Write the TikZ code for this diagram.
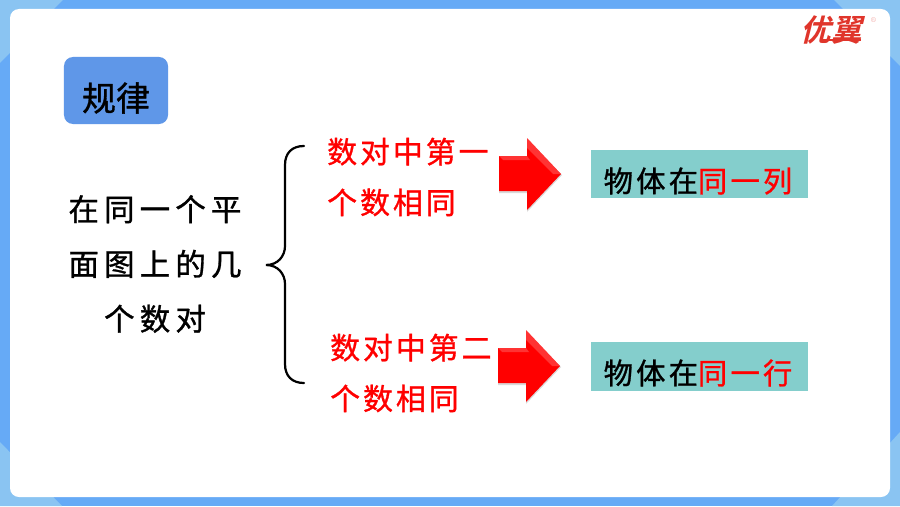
\documentclass[tikz,border=0pt]{standalone}
\usepackage{fontspec}
\newfontfamily\cjkTag[FakeBold=1]{Noto Sans CJK SC}
\newfontfamily\cjkMain[LetterSpace=17,FakeBold=1]{Noto Sans CJK SC}
\newfontfamily\cjkRed[LetterSpace=10,FakeBold=1]{Noto Sans CJK SC}
\newfontfamily\cjkBox[LetterSpace=11,FakeBold=1]{Noto Sans CJK SC}
\newfontfamily\cjkLogo[FakeSlant=0.25]{Noto Sans CJK SC Bold}
\definecolor{frameBlue}{HTML}{66AAF6}
\definecolor{cornerBlue}{HTML}{8AC4F2}
\definecolor{tagBlue}{HTML}{5F97E8}
\definecolor{boxTeal}{HTML}{84CECC}
\definecolor{arrowRed}{HTML}{FF0000}
\definecolor{logoRed}{HTML}{E0352B}

\begin{document}
\begin{tikzpicture}[x=0.03cm,y=-0.03cm,%%
  cornerStyle/.style={fill=cornerBlue,draw=none},%%
  tagStyle/.style={fill=tagBlue,rounded corners=0.27cm,inner sep=0pt,minimum width=3.12cm,minimum height=2.01cm},%%
  mainStyle/.style={align=center,inner sep=0pt,black,font=\cjkMain\fontsize{26}{46.75}\selectfont},%%
  redStyle/.style={align=left,inner sep=0pt,red,font=\cjkRed\fontsize{25.5}{43.35}\selectfont},%%
  boxStyle/.style={fill=boxTeal,inner sep=0pt,minimum width=6.51cm,minimum height=1.45cm},%%
  boxTextStyle/.style={inner sep=0pt,font=\cjkBox\fontsize{25}{25}\selectfont},%%
  braceStyle/.style={-,line width=1.9pt,line cap=round},%%
  arrowStyle/.style={fill=arrowRed,draw=none},%%
  shineStyle/.style={fill=white,opacity=0.2,draw=none},%%
  shadowStyle/.style={fill=black,opacity=0.15,draw=none}%%
]
%%
%%
\pgfmathsetmacro{\pageW}{900}
\pgfmathsetmacro{\pageH}{506}
\pgfmathsetmacro{\upperY}{174}
\pgfmathsetmacro{\lowerY}{366}
%%
\coordinate (origin) at (0,0);
\coordinate (farCorner) at (\pageW,\pageH);
%%
%% Draw the frame and its corners.
\fill[frameBlue] (origin) rectangle (farCorner);
\fill[cornerStyle] (0,0) -- (63,0) -- (0,63) -- cycle;
\fill[cornerStyle] (900,0) -- (834,0) -- (900,66) -- cycle;
\fill[cornerStyle] (900,506) -- (832,506) -- (900,432) -- cycle;
\fill[cornerStyle] (0,506) -- (62,506) -- (0,442) -- cycle;
\fill[white,rounded corners=0.27cm] (10,9) rectangle (890,497);
%%
%% The logo.
\node[inner sep=0pt,text=logoRed] (logoText) at (831,30) {\cjkLogo\fontsize{26}{26}\selectfont 优翼};
\node[inner sep=0pt,text=logoRed!45] (logoMark) at (873.5,20) {\fontsize{6}{6}\selectfont\textregistered};
\fill[logoRed] (822,39.5) rectangle (861,41.5);
%%
%% The tag and the text on the left.
\node[tagStyle] (tagBox) at (116,90.5) {};
\node[inner sep=0pt] (tagText) at (116,98) {\cjkTag\fontsize{29}{29}\selectfont 规律};
\node[mainStyle] (mainText) at (155,264) {在同一个平\\面图上的几\\个数对};
%%
%% Draw the brace.
\coordinate (braceTop) at (304,146);
\coordinate (braceTip) at (266,265);
\coordinate (braceEnd) at (304,383);
\draw[braceStyle] (braceTop) .. controls (292,146) and (285,153) .. (285,165)
  -- (285,246) .. controls (285,256) and (278,265) .. (braceTip)
  .. controls (278,265) and (285,274) .. (285,284)
  -- (285,364) .. controls (285,376) and (292,383) .. (braceEnd);
%%
%% The two red texts.
\node[redStyle,anchor=west] (firstText) at (327,177) {数对中第一\\个数相同};
\node[redStyle,anchor=west] (secondText) at (330,373) {数对中第二\\个数相同};
%%
%% The two block arrows.
\foreach \arrowY/\arrowX in {\upperY/0,\lowerY/-1} {
  \fill[shadowStyle] (499+\arrowX,\arrowY-15) -- (527+\arrowX,\arrowY-15) -- (527+\arrowX,\arrowY-33)
    -- (562+\arrowX,\arrowY+1) -- (527+\arrowX,\arrowY+38) -- (527+\arrowX,\arrowY+19) -- (499+\arrowX,\arrowY+19) -- cycle;
  \fill[arrowStyle] (499+\arrowX,\arrowY-18) -- (527+\arrowX,\arrowY-18) -- (527+\arrowX,\arrowY-36)
    -- (561+\arrowX,\arrowY) -- (527+\arrowX,\arrowY+36) -- (527+\arrowX,\arrowY+17) -- (499+\arrowX,\arrowY+17) -- cycle;
  \fill[shineStyle] (499+\arrowX,\arrowY-18) -- (527+\arrowX,\arrowY-18) -- (530+\arrowX,\arrowY-14) -- (503+\arrowX,\arrowY-14) -- cycle;
  \fill[shineStyle] (527+\arrowX,\arrowY-36) -- (561+\arrowX,\arrowY) -- (553+\arrowX,\arrowY) -- (527+\arrowX,\arrowY-26) -- cycle;
}
%%
%% The two result boxes.
\node[boxStyle] (upperBox) at (699.5,174) {};
\node[boxTextStyle] (upperText) at (698,181) {物体在\textcolor{red}{同一列}};
\node[boxStyle] (lowerBox) at (699.5,366.5) {};
\node[boxTextStyle] (lowerText) at (698,373) {物体在\textcolor{red}{同一行}};
\end{tikzpicture}
\end{document}
